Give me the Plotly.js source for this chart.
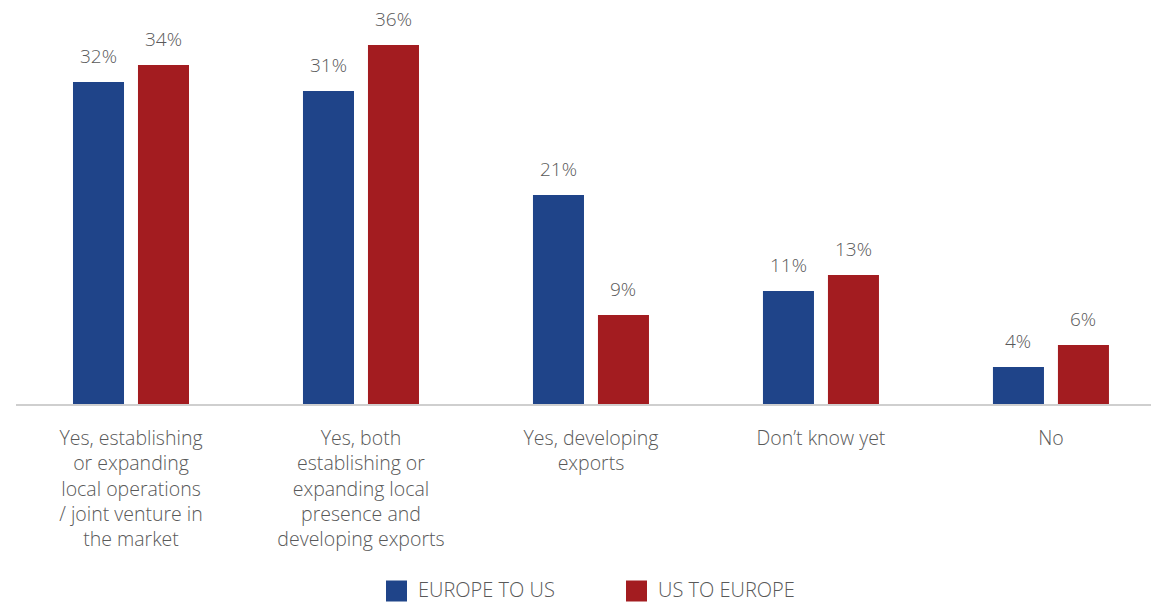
<!DOCTYPE html>
<html>
<head>
<meta charset="utf-8">
<script src="https://cdn.plot.ly/plotly-3.0.1.min.js"></script>
<style>html,body{margin:0;padding:0;overflow:hidden;background:#fff;}</style>
</head>
<body>
<div id="chart" style="width:1151px;height:603px;"></div>
<script>
const categories = [
  "Yes, establishing<br>or expanding<br>local operations<br>/ joint venture in<br>the market",
  "Yes, both<br>establishing or<br>expanding local<br>presence and<br>developing exports",
  "Yes, developing<br>exports",
  "Don\u2019t know yet",
  "No"
];
const seriesNames = ["EUROPE TO US", "US TO EUROPE"];
const europeToUs = [32.2, 31.3, 20.9, 11.3, 3.7];
const usToEurope = [33.9, 35.9, 8.9, 12.9, 5.9];
const colors = ["#1f4489", "#a31c20"];

const FONT = "'Open Sans', Lato, sans-serif";
const TXT = "#595959";

const allSeries = [europeToUs, usToEurope];
const traces = allSeries.map((vals, i) => ({
  type: "bar",
  name: seriesNames[i],
  x: categories,
  y: vals,
  marker: {color: colors[i], line: {width: 0}},
  showlegend: false,
  hoverinfo: "skip"
}));

const annotations = [];
allSeries.forEach((vals, i) => {
  vals.forEach((v, j) => {
    annotations.push({
      x: categories[j], y: v, xref: "x", yref: "y",
      text: Math.round(v) + "%",
      showarrow: false,
      xshift: i === 0 ? -32.5 : 32.5,
      yshift: 26,
      yanchor: "middle",
      font: {family: FONT, size: 19, color: TXT, weight: 300}
    });
  });
});

// legend drawn in paper coordinates
const shapes = [];
const legendX = [386, 626];
legendX.forEach((px, i) => {
  shapes.push({
    type: "rect", xref: "paper", yref: "paper",
    x0: (px - 16) / 1135, x1: (px + 21 - 16) / 1135,
    y0: -(580.5 - 404) / 400, y1: -(601.5 - 404) / 400,
    fillcolor: colors[i], line: {width: 0}
  });
  annotations.push({
    xref: "paper", yref: "paper",
    x: (px + 31 - 16) / 1135, y: -(589 - 404) / 400,
    xanchor: "left", yanchor: "middle",
    text: seriesNames[i], showarrow: false, borderpad: 0,
    font: {family: FONT, size: 20, color: TXT, weight: 300}
  });
});

const layout = {
  width: 1151, height: 603,
  margin: {l: 16, r: 0, t: 4, b: 199, pad: 0},
  paper_bgcolor: "#fff", plot_bgcolor: "#fff",
  barmode: "group",
  bargap: 0.4348,
  bargroupgap: 0.215,
  font: {family: FONT, size: 19, color: TXT},
  xaxis: {
    type: "category",
    range: [-0.5, 4.435],
    showline: true, linecolor: "#cfcfcf", linewidth: 1.5,
    ticks: "", showgrid: false, zeroline: false,
    ticklabelstandoff: 16,
    tickfont: {family: FONT, size: 19.5, color: TXT, weight: 300},
    fixedrange: true
  },
  yaxis: {
    range: [0, 40], visible: false, showgrid: false, zeroline: false, fixedrange: true
  },
  annotations: annotations,
  shapes: shapes,
  showlegend: false
};

Plotly.newPlot("chart", traces, layout, {displayModeBar: false, staticPlot: true});
</script>
</body>
</html>
